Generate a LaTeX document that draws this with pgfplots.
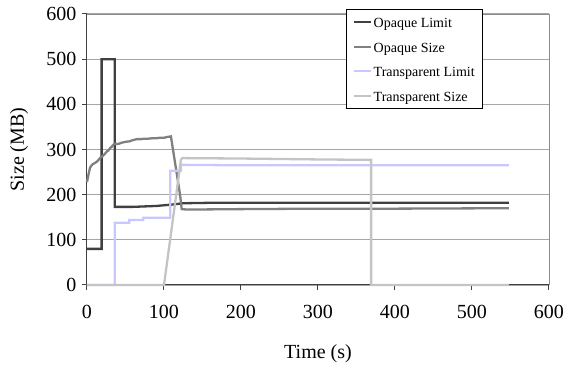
\documentclass[border=0pt]{standalone}
\usepackage{pgfplots}
\pgfplotsset{compat=1.18}
\usepackage{fontspec}
\setmainfont{Liberation Serif}
\definecolor{olim}{HTML}{404040}
\definecolor{osize}{HTML}{808080}
\definecolor{tlim}{HTML}{C8C8FF}
\definecolor{tsize}{HTML}{C4C4C4}
\definecolor{axisdark}{HTML}{404040}
\definecolor{gridgray}{HTML}{A6A6A6}
\definecolor{framegray}{HTML}{8C8C8C}
\begin{document}
\begin{tikzpicture}
\begin{axis}[
  at={(0pt,0pt)}, anchor=south west,
  scale only axis, width=462pt, height=271pt,
  xmin=0, xmax=600, ymin=0, ymax=600,
  xtick={0,100,...,600}, ytick={0,100,...,600},
  axis x line=bottom, axis y line=left,
  axis line style={-, draw=axisdark, line width=1pt},
  tick align=outside, major tick length=5pt,
  every tick/.style={draw=axisdark, line width=1pt},
  ymajorgrids=true,
  major grid style={draw=gridgray, line width=1.1pt},
  /pgf/number format/assume math mode=true,
  ticklabel style={font=\fontsize{20}{24}\selectfont},
  xticklabel style={yshift=-12pt},
  yticklabel style={xshift=-2pt},
  label style={font=\fontsize{20}{24}\selectfont},
  xlabel={Time (s)}, ylabel={Size (MB)},
  xlabel style={at={(axis description cs:0.5,-0.253)}, anchor=center},
  ylabel style={at={(axis description cs:-0.147,0.5)}, anchor=center},
  clip=false,
  legend image code/.code={\draw[#1] (0pt,0pt) -- (17pt,0pt);},
  legend cell align=left,
  legend style={at={(axis description cs:0.5606,1.0185)}, anchor=north west,
    draw=black, line width=0.9pt, fill=white,
    font=\fontsize{14}{16}\selectfont,
    inner xsep=6pt, inner ysep=5.5pt, row sep=10pt,
    nodes={inner xsep=2pt, inner ysep=0pt, text height=13pt, text depth=1.5pt}},
]
\addplot[olim, line width=2.3pt, line join=miter] coordinates {
(0,80) (19,80) (19,500) (36,500) (36,173) (60,173) (90,175) (110,178)
(125,181) (160,182) (548,182)};
\addlegendentry{Opaque Limit}
\addplot[osize, line width=2.3pt] coordinates {
(0,228) (2,245) (4,260) (6,265) (8,268) (10,270) (12,272) (14,275) (16,279)
(18,283) (20,285) (22,288) (24,292) (26,296) (28,298) (30,303) (32,306)
(34,310) (36,313) (40,312) (45,315) (50,317) (55,318) (60,321) (65,323)
(70,323) (75,324) (80,324) (85,325) (90,325) (95,326) (100,326) (105,328)
(109,329) (121,198) (123,168) (130,167) (200,168) (300,169) (400,169) (548,170)};
\addlegendentry{Opaque Size}
\addplot[tlim, line width=2.3pt] coordinates {
(0,0) (36,0) (36,138) (55,138) (55,144) (73,144) (73,149) (108,149)
(108,253) (122,253) (122,266) (200,265) (548,265)};
\addlegendentry{Transparent Limit}
\addplot[tsize, line width=2.3pt] coordinates {
(0,0) (100,0) (122,277) (124,281) (200,280) (300,278) (369,277) (369,0) (548,0)};
\addlegendentry{Transparent Size}
\draw[framegray, line width=0.8pt] (rel axis cs:0,1) -- (rel axis cs:1,1) -- (rel axis cs:1,0);
\end{axis}
\pgfresetboundingbox
\path[use as bounding box] (-87pt,-81pt) rectangle (479pt,285pt);
\end{tikzpicture}
\end{document}
